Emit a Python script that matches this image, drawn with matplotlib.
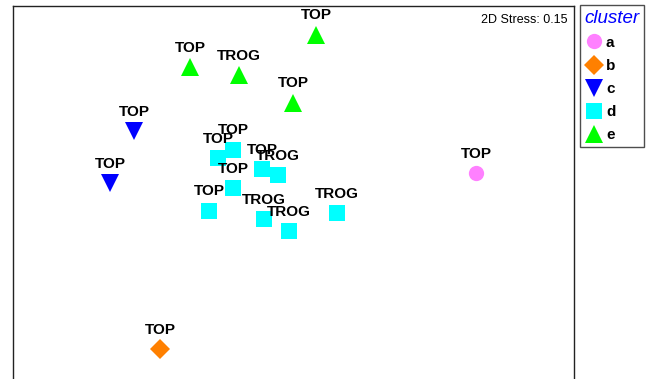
import matplotlib.pyplot as plt
from matplotlib.lines import Line2D

plt.rcParams['font.family'] = ['Liberation Sans', 'DejaVu Sans']

# nMDS coordinates per cluster, with the sample label for each point
a_x = [1.041]
a_y = [0.147]
a_lab = ["TOP"]

b_x = [-0.762]
b_y = [-0.857]
b_lab = ["TOP"]

c_x = [-0.910, -1.047]
c_y = [0.387, 0.090]
c_lab = ["TOP", "TOP"]

d_x = [-0.345, -0.431, -0.180, -0.088, -0.345, -0.482, -0.168, -0.026, 0.248]
d_y = [0.279, 0.233, 0.170, 0.136, 0.062, -0.069, -0.115, -0.184, -0.081]
d_lab = ["TOP", "TOP", "TOP", "TROG", "TOP", "TOP", "TROG", "TROG", "TROG"]

e_x = [0.128, -0.590, -0.311, -0.003]
e_y = [0.935, 0.752, 0.706, 0.547]
e_lab = ["TOP", "TOP", "TROG", "TOP"]

stress = 0.15

groups = [
    ("a", a_x, a_y, a_lab, "o", "#FF80FF", 11),
    ("b", b_x, b_y, b_lab, "D", "#FF8000", 10.5),
    ("c", c_x, c_y, c_lab, "v", "#0000FF", 13),
    ("d", d_x, d_y, d_lab, "s", "#00FFFF", 11.5),
    ("e", e_x, e_y, e_lab, "^", "#00FF00", 13),
]

fig = plt.figure(figsize=(6.51, 3.79), dpi=100)
ax = fig.add_axes([13 / 651, 1 - 395 / 379, 561 / 651, 389 / 379])
ax.set_xlim(-1.6, 1.6)
ax.set_ylim(1.1 - 389 / 175.3, 1.1)
ax.set_xticks([])
ax.set_yticks([])
for s in ax.spines.values():
    s.set_linewidth(1.0)
    s.set_color("#222222")

handles = []
for name, xs, ys, labs, mk, col, ms in groups:
    ax.plot(xs, ys, linestyle="none", marker=mk, color=col, markersize=ms,
            markeredgewidth=0, zorder=2)
    for x, y, t in zip(xs, ys, labs):
        ax.annotate(t, (x, y), xytext=(0, 14), textcoords="offset points",
                    ha="center", va="center", fontsize=11, fontweight="bold",
                    color="black", zorder=3)
    handles.append(Line2D([], [], linestyle="none", marker=mk, color=col,
                          markersize=ms, markeredgewidth=0, label=name))

ax.text(0.988, 0.985 - 2 / 389, "2D Stress: %.2f" % stress, transform=ax.transAxes,
        ha="right", va="top", fontsize=9)

leg = fig.legend(handles=handles, loc="upper left",
                 bbox_to_anchor=(580 / 651, 1 - 5 / 379),
                 frameon=True, fancybox=False, title="cluster",
                 prop={"weight": "bold", "size": 11},
                 handletextpad=0.2, labelspacing=0.6, borderpad=0.3,
                 handlelength=1.2, borderaxespad=0, alignment="left")
leg.get_frame().set_edgecolor("#222222")
leg.get_frame().set_linewidth(1.0)
title = leg.get_title()
title.set_color("#0000FF")
title.set_fontstyle("italic")
title.set_fontsize(13.5)

fig.savefig("out.png", dpi=100)
